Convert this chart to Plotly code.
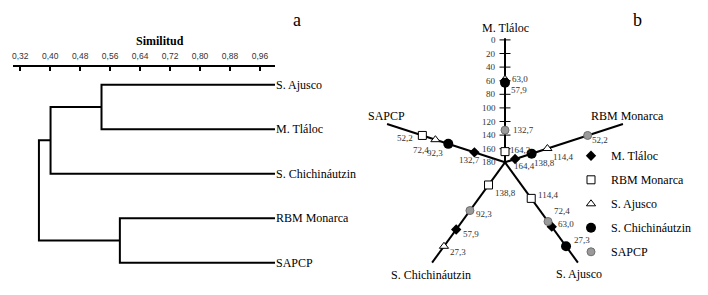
import math
import plotly.graph_objects as go

# ---------------- Panel a: dendrogram data ----------------
leaf_names = ["S. Ajusco", "M. Tláloc", "S. Chichináutzin", "RBM Monarca", "SAPCP"]
# merges: new cluster ids 5, 6, 7, 8 in order
merge_left = [0, 3, 5, 7]
merge_right = [1, 4, 2, 6]
merge_similarity = [0.537, 0.586, 0.401, 0.370]
sim_ticks = [0.32, 0.40, 0.48, 0.56, 0.64, 0.72, 0.80, 0.88, 0.96]
sim_tick_labels = ["0,32", "0,40", "0,48", "0,56", "0,64", "0,72", "0,80", "0,88", "0,96"]

# ---------------- Panel b: star plot data ----------------
axis_names = ["M. Tláloc", "RBM Monarca", "S. Ajusco", "S. Chichináutzin", "SAPCP"]
scale_ticks = [0, 20, 40, 60, 80, 100, 120, 140, 160, 180]
series_names = ["M. Tláloc", "RBM Monarca", "S. Ajusco", "S. Chichináutzin", "SAPCP"]
# values of each series on axes [M. Tláloc, RBM Monarca, S. Ajusco, S. Chichináutzin, SAPCP]
tlaloc_values = [None, 164.4, 63.0, 57.9, 132.7]
monarca_values = [164.3, None, 114.4, 138.8, 52.2]
ajusco_values = [57.9, 114.4, None, 27.3, 72.4]
chich_values = [63.0, 138.8, 27.3, None, 92.3]
sapcp_values = [132.7, 52.2, 72.4, 92.3, None]
series_values = [tlaloc_values, monarca_values, ajusco_values, chich_values, sapcp_values]

# ---------------- layout / style ----------------
OFF = 8                      # page body margin of the browser
W, H = 708 - OFF, 295 - OFF  # figure size


def fx(p):   # viewport px -> paper x
    return (p - OFF) / W


def fy(p):   # viewport px -> paper y
    return 1 - (p - OFF) / H


SERIF = "Liberation Serif, Times New Roman, serif"
SANS = "Liberation Sans, Arial, sans-serif"
axis_angles = [90, 18, -54, -126, 162]
VMAX = 180.0
K = 0.68                          # px per unit in star plot
CX, CY = 505.0 - OFF, 162.3 - OFF  # star centre (figure px)
SPOKE_END = 182.4                 # units from centre

marker_styles = [
    dict(symbol="diamond", size=8, color="black"),
    dict(symbol="square", size=8, color="white", line=dict(color="black", width=1)),
    dict(symbol="triangle-up", size=8, color="white", line=dict(color="black", width=1)),
    dict(symbol="circle", size=10, color="black"),
    dict(symbol="circle", size=8, color="#9a9a9a", line=dict(color="#6e6e6e", width=1)),
]

# label placement (xanchor, dx px, dy px down) keyed by (series index, axis index)
label_pos = {
    (3, 0): ("left", 4.5, -4), (2, 0): ("left", 4, 11), (4, 0): ("left", 6, 0), (1, 0): ("left", 3, -2),
    (4, 1): ("left", 2, 5), (2, 1): ("left", 4, 8), (3, 1): ("left", 0, 9), (0, 1): ("left", -3, 7),
    (1, 4): ("right", -7, 3), (2, 4): ("right", -4, 10), (3, 4): ("right", -3, 9), (0, 4): ("center", -5, 8),
    (1, 3): ("left", 4, 8), (4, 3): ("left", 4, 3), (0, 3): ("left", 5, 5), (2, 3): ("left", 4, 6),
    (1, 2): ("left", 5, -3), (4, 2): ("left", 4, -10), (0, 2): ("left", 4, -3), (3, 2): ("left", 6, -6),
}
title_shift = [(0, 10), (5, 8), (1, -11), (-1, -12), (-1, 8)]


def polar(v, ang):
    r = VMAX - v
    a = math.radians(ang)
    return r * math.cos(a), r * math.sin(a)


def fmt(v):
    return f"{v:.1f}".replace(".", ",")


fig = go.Figure()

# ---- dendrogram ----
node_x = {i: 1.0 for i in range(len(leaf_names))}
node_y = {i: float(len(leaf_names) - 1 - i) for i in range(len(leaf_names))}
dx_, dy_ = [], []
for k, (l, r, s) in enumerate(zip(merge_left, merge_right, merge_similarity)):
    dx_ += [node_x[l], s, s, node_x[r], None]
    dy_ += [node_y[l], node_y[l], node_y[r], node_y[r], None]
    nid = len(leaf_names) + k
    node_x[nid] = s
    node_y[nid] = (node_y[l] + node_y[r]) / 2
fig.add_trace(go.Scatter(x=dx_, y=dy_, mode="lines", line=dict(color="black", width=2),
                         xaxis="x", yaxis="y", showlegend=False, hoverinfo="skip"))

# ---- star spokes ----
sx, sy = [], []
for ang in axis_angles:
    ex, ey = polar(VMAX - SPOKE_END, ang)
    sx += [0, ex, None]
    sy += [0, ey, None]
fig.add_trace(go.Scatter(x=sx, y=sy, mode="lines", line=dict(color="black", width=2),
                         xaxis="x2", yaxis="y2", showlegend=False, hoverinfo="skip"))

# ---- scale ticks on the vertical axis ----
half = 5.5 / K
tx, ty = [], []
for v in scale_ticks[:-1]:
    tx += [-half, half, None]
    ty += [VMAX - v, VMAX - v, None]
fig.add_trace(go.Scatter(x=tx, y=ty, mode="lines", line=dict(color="black", width=1),
                         xaxis="x2", yaxis="y2", showlegend=False, hoverinfo="skip"))

annotations = []
for v in scale_ticks:
    annotations.append(dict(x=0, y=VMAX - v, xref="x2", yref="y2", text=str(v), showarrow=False,
                            xanchor="right", yanchor="middle", xshift=-7,
                            font=dict(family=SERIF, size=9, color="#333")))

# ---- series markers ----
for si, (name, vals) in enumerate(zip(series_names, series_values)):
    px, py = [], []
    for ai, v in enumerate(vals):
        if v is None:
            continue
        x, y = polar(v, axis_angles[ai])
        px.append(x)
        py.append(y)
        xa, ddx, ddy = label_pos[(si, ai)]
        annotations.append(dict(x=x, y=y, xref="x2", yref="y2", text=fmt(v), showarrow=False,
                                xanchor=xa, yanchor="middle", xshift=ddx, yshift=-ddy,
                                font=dict(family=SERIF, size=9, color="#333")))
    fig.add_trace(go.Scatter(x=px, y=py, mode="markers", name=name, marker=marker_styles[si],
                             xaxis="x2", yaxis="y2", legendgroup=name, showlegend=True,
                             hoverinfo="skip"))

# ---- axis titles ----
for ai, (name, ang) in enumerate(zip(axis_names, axis_angles)):
    ex, ey = polar(VMAX - SPOKE_END, ang)
    xs, ys = title_shift[ai]
    annotations.append(dict(x=ex, y=ey, xref="x2", yref="y2", text=name, showarrow=False,
                            xanchor="center", yanchor="middle", xshift=xs, yshift=ys,
                            font=dict(family=SERIF, size=12, color="black")))

# ---- panel letters and dendrogram axis title ----
annotations += [
    dict(x=fx(296.7), y=1, xref="paper", yref="paper", text="a", showarrow=False,
         xanchor="center", yanchor="top", font=dict(family=SERIF, size=18, color="black")),
    dict(x=fx(637), y=1, xref="paper", yref="paper", text="b", showarrow=False,
         xanchor="center", yanchor="top", font=dict(family=SERIF, size=18, color="black")),
    dict(x=fx(160), y=fy(40.7), xref="paper", yref="paper", text="<b>Similitud</b>",
         showarrow=False, xanchor="center", yanchor="middle",
         font=dict(family=SERIF, size=12, color="black")),
]

d2 = fx(360)
fig.update_layout(
    width=W, height=H, margin=dict(l=0, r=0, t=0, b=0),
    paper_bgcolor="white", plot_bgcolor="white",
    font=dict(family=SERIF, size=12, color="black"),
    hovermode=False,
    xaxis=dict(domain=[fx(12.7), fx(275)], range=[0.30, 1.0], side="top", anchor="y",
               tickmode="array", tickvals=sim_ticks, ticktext=sim_tick_labels,
               ticks="inside", ticklen=4, tickwidth=1.5, tickcolor="black",
               showline=True, linewidth=2, linecolor="black", showgrid=False, zeroline=False,
               tickfont=dict(family=SANS, size=8.5, color="#333"), ticklabelstandoff=3),
    yaxis=dict(domain=[fy(284.9), fy(67)], range=[-0.5, 4.4], side="right",
               anchor="x", tickmode="array",
               tickvals=[node_y[i] for i in range(len(leaf_names))], ticktext=leaf_names,
               ticks="", showline=False, showgrid=False, zeroline=False,
               tickfont=dict(family=SERIF, size=12, color="black")),
    xaxis2=dict(domain=[d2, 1.0], range=[(d2 * W - CX) / K, (W - CX) / K], anchor="y2",
                visible=False),
    yaxis2=dict(domain=[0, 1], range=[(CY - H) / K, CY / K], anchor="x2", visible=False),
    legend=dict(x=(563) / W, y=1 - 133.3 / H, xanchor="left", yanchor="top",
                bgcolor="rgba(0,0,0,0)", font=dict(family=SERIF, size=12, color="black"),
                tracegroupgap=5, itemwidth=30),
    annotations=annotations,
)

fig.write_html("out.html")
